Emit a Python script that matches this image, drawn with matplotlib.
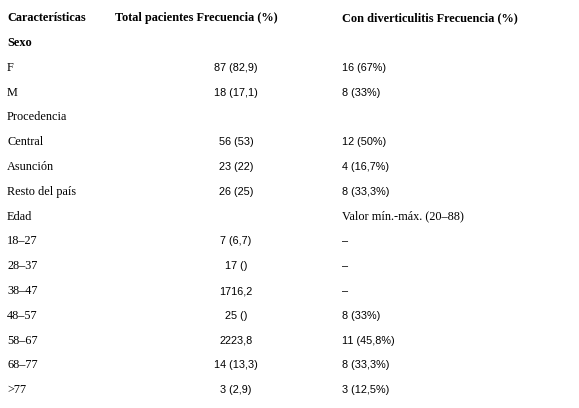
import matplotlib
matplotlib.use("Agg")
import matplotlib.pyplot as plt

headers = ["Características", "Total pacientes Frecuencia (%)", "Con diverticulitis Frecuencia (%)"]
labels = ["Sexo", "F", "M", "Procedencia", "Central", "Asunción", "Resto del país", "Edad",
          "18–27", "28–37", "38–47", "48–57", "58–67", "68–77", ">77"]
bold_rows = ["Sexo"]
total = ["", "87 (82,9)", "18 (17,1)", "", "56 (53)", "23 (22)", "26 (25)", "",
         "7 (6,7)", "17 ()", "1716,2", "25 ()", "2223,8", "14 (13,3)", "3 (2,9)"]
diverti = ["", "16 (67%)", "8 (33%)", "", "12 (50%)", "4 (16,7%)", "8 (33,3%)",
           "Valor mín.-máx. (20–88)", "–", "–", "–", "8 (33%)", "11 (45,8%)",
           "8 (33,3%)", "3 (12,5%)"]

W, H = 579, 408
fig = plt.figure(figsize=(W / 100, H / 100), dpi=100)
fig.patch.set_facecolor("white")
serif = ["Liberation Serif", "DejaVu Serif"]
sans = ["Liberation Sans", "DejaVu Sans"]


def put(x, y, s, **kw):
    kw.setdefault("fontsize", 8.3)
    fig.text(x / W, 1 - y / H, s, va="center", color="black", **kw)


put(7, 18, headers[0], family=serif, weight="bold", fontsize=8.8)
put(115, 18, headers[1], family=serif, weight="bold", fontsize=8.8)
put(342, 18, headers[2], family=serif, weight="bold", fontsize=8.8)

y0, dy = 43, 24.8
for i, lab in enumerate(labels):
    y = y0 + i * dy
    if lab in bold_rows:
        put(7, y, lab, family=serif, weight="bold", fontsize=8.8)
    else:
        put(7, y, lab, family=serif, fontsize=8.8)
    if total[i]:
        put(236, y, total[i], family=sans, ha="center", fontsize=7.8)
    if diverti[i]:
        fam = serif if diverti[i].startswith("Valor") else sans
        put(342, y, diverti[i], family=fam, fontsize=8.8 if fam == serif else 7.8)

fig.savefig("out.png", dpi=100)
